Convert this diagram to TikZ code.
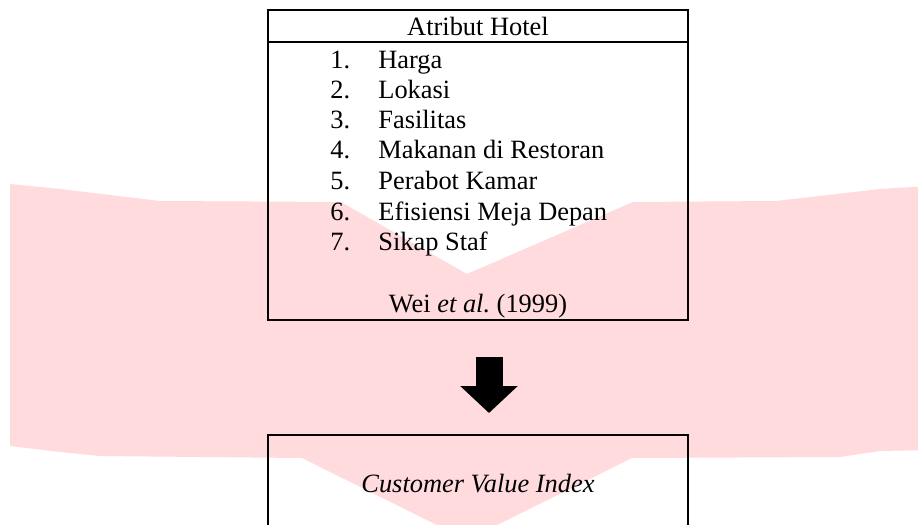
\documentclass[tikz,border=0pt]{standalone}
\usepackage{fontspec}
\setmainfont{Liberation Serif}
\usetikzlibrary{arrows.meta}
\definecolor{wmpink}{RGB}{255,219,221}
\frenchspacing
\tikzset{
  boxstyle/.style={draw=black, line width=1pt, fill=none, inner sep=0pt},
  txt/.style={font=\fontsize{13.2}{15}\selectfont, inner sep=0pt, anchor=base},
  txtl/.style={txt, anchor=base west},
  bigarrow/.style={line width=13.5pt, -{Triangle[length=13.5pt, width=28pt]}}
}
\begin{document}
\begin{tikzpicture}[x=0.5pt, y=-0.5pt]
\useasboundingbox (0,0) rectangle (918,525);
\clip (0,0) rectangle (918,525);
\fill[white] (0,0) rectangle (918,525);
% watermark
\fill[wmpink] (10,184) -- (60,189) -- (160,201) -- (341,202) -- (467,274) -- (633,202)
  -- (776,201) -- (880,189) -- (930,186) -- (930,450) -- (880,451) -- (840,457)
  -- (632,458) -- (467,540) -- (302,458) -- (100,456) -- (60,452) -- (10,446) -- cycle;
% top box
\node[boxstyle, minimum width=210pt, minimum height=155pt] (attr) at (478,165) {};
\coordinate (divl) at (268,42);
\coordinate (divr) at (688,42);
\draw[line width=1pt] (divl) -- (divr);
\node[txt] (title) at (478,35) {Atribut Hotel};
\node[txtl] (n1) at (330,68) {1.};
\node[txtl] (i1) at (378,68) {Harga};
\node[txtl] (n2) at (330,98) {2.};
\node[txtl] (i2) at (378,98) {Lokasi};
\node[txtl] (n3) at (330,128) {3.};
\node[txtl] (i3) at (378,128) {Fasilitas};
\node[txtl] (n4) at (330,158) {4.};
\node[txtl] (i4) at (378,158) {Makanan di Restoran};
\node[txtl] (n5) at (330,189) {5.};
\node[txtl] (i5) at (378,189) {Perabot Kamar};
\node[txtl] (n6) at (330,220) {6.};
\node[txtl] (i6) at (378,220) {Efisiensi Meja Depan};
\node[txtl] (n7) at (330,250) {7.};
\node[txtl] (i7) at (378,250) {Sikap Staf};
\node[txt] (src) at (478,312) {Wei \textit{et al.}\ (1999)};
% bottom box
\node[boxstyle, minimum width=210pt, minimum height=65pt] (cvi) at (478,500) {};
\node[txt] (cvitext) at (478,492) {\textit{Customer Value Index}};
% arrow
\coordinate (as) at (489,357);
\coordinate (ae) at (489,413);
\draw[bigarrow] (as) -- (ae);
\end{tikzpicture}
\end{document}
